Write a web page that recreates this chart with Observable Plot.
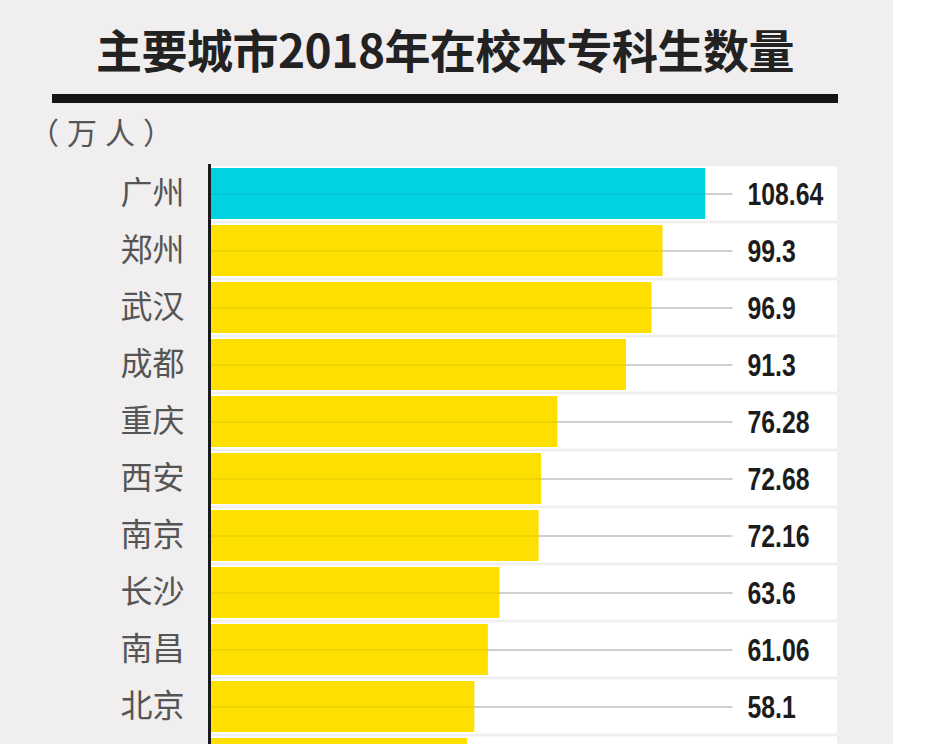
<!DOCTYPE html>
<html>
<head>
<meta charset="utf-8">
<script src="https://cdn.jsdelivr.net/npm/d3@7"></script>
<script src="https://cdn.jsdelivr.net/npm/@observablehq/plot@0.6"></script>
<style>
  html, body { margin: 0; padding: 0; background: #ffffff; }
  #page { position: relative; width: 928px; height: 800px; background: #f0eeee; overflow: hidden; }
  #strip { position: absolute; left: 893px; top: 0; width: 35px; height: 800px; background: #ffffff; }
  #title { position: absolute; left: 52px; width: 786px; top: 18px; text-align: center;
    font-family: "Noto Sans CJK SC", sans-serif; font-weight: 700; font-size: 46px; color: #222; line-height: 60px; letter-spacing: -0.5px; }
  #rule { position: absolute; left: 52px; width: 786px; top: 94px; height: 9px; background: #151515; }
  #unit { position: absolute; left: 29px; top: 110px; font-family: "Noto Sans CJK SC", sans-serif; font-size: 30px; letter-spacing: 8px; color: #555; line-height: 42px; }
  #chart { position: absolute; left: 0; top: 160px; width: 928px; }
  #chart svg { max-width: none !important; }
</style>
</head>
<body>
<div id="page">
  <div id="strip"></div>
  <div id="title"></div>
  <div id="rule"></div>
  <div id="unit"></div>
  <div id="chart"></div>
</div>
<script>
const titleText = "主要城市2018年在校本专科生数量";
const unitText = "（万人）";
const cities = ["广州", "郑州", "武汉", "成都", "重庆", "西安", "南京", "长沙", "南昌", "北京", "济南"];
const values = [108.64, 99.3, 96.9, 91.3, 76.28, 72.68, 72.16, 63.6, 61.06, 58.1, 56.5];
const labels = ["108.64", "99.3", "96.9", "91.3", "76.28", "72.68", "72.16", "63.6", "61.06", "58.1", ""];
const highlight = ["广州"];
const visibleCities = cities.slice(0, 10);

document.getElementById("title").textContent = titleText;
document.getElementById("unit").textContent = unitText;

const data = cities.map((c, i) => ({city: c, value: values[i], label: labels[i]}));

const chart = Plot.plot({
  width: 928,
  height: 640,
  marginLeft: 209,
  marginRight: 91,
  marginTop: 4,
  marginBottom: 0,
  style: {background: "transparent", overflow: "visible"},
  x: {domain: [0, 137.5], axis: null},
  y: {domain: cities, range: [1.1, 636.9], paddingInner: 0.1, paddingOuter: 0.05, label: null},
  marks: [
    Plot.barX(data, {y: "city", x1: 0, x2: 137.5, fill: "#ffffff", insetTop: -1.6, insetBottom: -1.6}),
    Plot.link(data, {y1: "city", y2: "city", x1: 0, x2: 114.5, stroke: "#cfcfcf", strokeWidth: 2}),
    Plot.barX(data, {y: "city", x: "value", fill: d => highlight.includes(d.city) ? "#00d2df" : "#fde000"}),
    Plot.link(data, {y1: "city", y2: "city", x1: 0, x2: "value", stroke: "#000", strokeOpacity: 0.05, strokeWidth: 2}),
    Plot.ruleX([0], {stroke: "#1a1a1a", strokeWidth: 3}),
    Plot.axisY(visibleCities, {tickSize: 0, tickPadding: 25, fontSize: 32, fill: "#555", fontFamily: "Noto Sans CJK SC", label: null}),
    Plot.text(data, {y: "city", text: "label", frameAnchor: "right", textAnchor: "start", dx: -90, dy: 1,
      fontSize: 31, fontWeight: "bold", fontFamily: "Liberation Sans, Arial, sans-serif", fill: "#1c1c1c", className: "vals"})
  ]
});
document.getElementById("chart").appendChild(chart);

// condense the value labels horizontally, anchored at each label's left edge
d3.select(chart).selectAll(".vals text").each(function() {
  const b = this.getBBox();
  const t = this.getAttribute("transform") || "";
  this.setAttribute("transform", `${t} translate(${b.x},0) scale(0.8,1) translate(${-b.x},0)`);
});
</script>
</body>
</html>
